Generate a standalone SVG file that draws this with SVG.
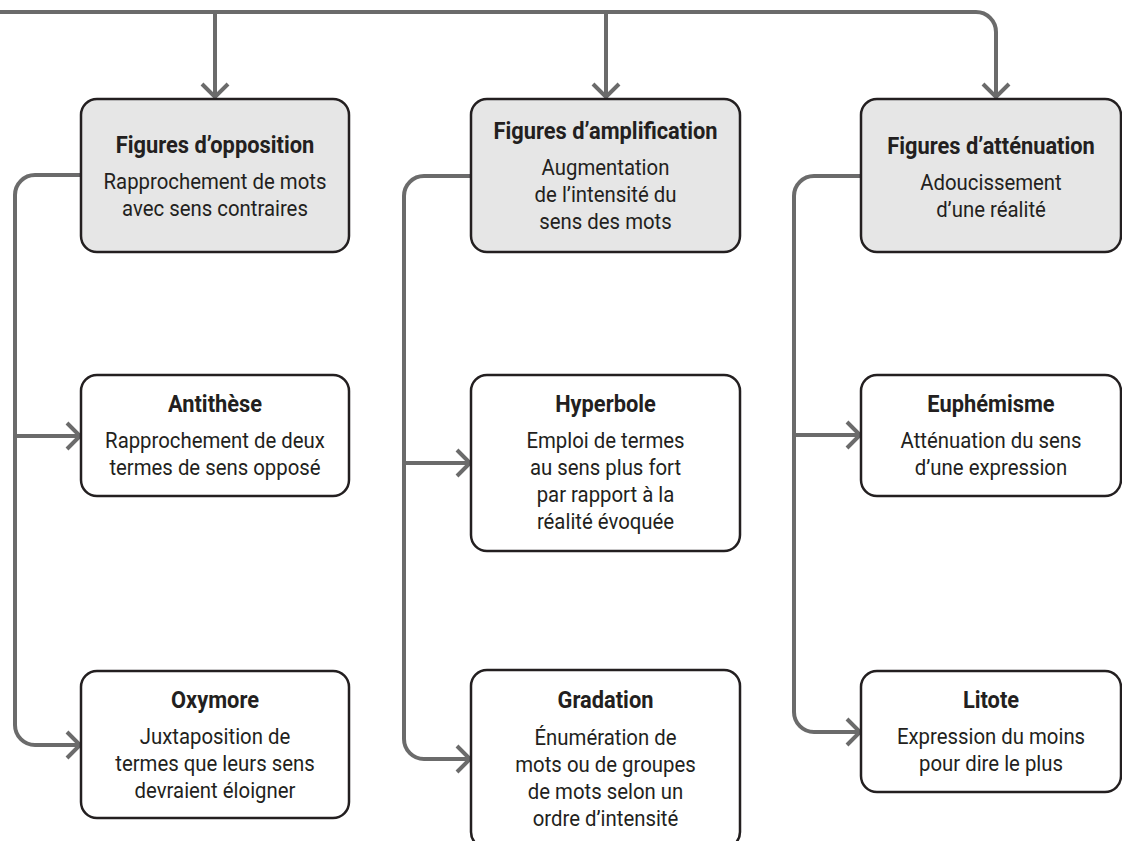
<svg xmlns="http://www.w3.org/2000/svg" width="1122" height="841" viewBox="0 0 1122 841">
<style>
.box{fill:#ffffff;stroke:#231f20;stroke-width:2.5}
.head{fill:#e6e6e6}
.ln{fill:none;stroke:#6b6b6b;stroke-width:4}
.t{font-family:Roboto,"Liberation Sans",sans-serif;font-size:23px;fill:#231f20;text-anchor:middle}
.b{font-weight:bold}
</style>
<defs>
<marker id="ah" markerUnits="userSpaceOnUse" viewBox="-16 -16 20 32" refX="0" refY="0" markerWidth="20" markerHeight="32" orient="auto">
<path d="M-13,-13 L0,0 L-13,13" fill="none" stroke="#6b6b6b" stroke-width="4"/>
</marker>
</defs>
<rect width="1122" height="841" fill="#ffffff"/>
<g id="connectors">
<path class="ln" d="M0,12 H976 A20,20 0 0 1 996,32 V97" marker-end="url(#ah)"/>
<path class="ln" d="M215,12 V97" marker-end="url(#ah)"/>
<path class="ln" d="M606,12 V97" marker-end="url(#ah)"/>
<path class="ln" d="M81,175 H35 A20,20 0 0 0 15,195 V725 A20,20 0 0 0 35,745 H80" marker-end="url(#ah)"/>
<path class="ln" d="M15,436 H80" marker-end="url(#ah)"/>
<path class="ln" d="M471,176 H424 A20,20 0 0 0 404,196 V739 A20,20 0 0 0 424,759 H470" marker-end="url(#ah)"/>
<path class="ln" d="M404,463 H470" marker-end="url(#ah)"/>
<path class="ln" d="M861,176 H814 A20,20 0 0 0 794,196 V712 A20,20 0 0 0 814,732 H860" marker-end="url(#ah)"/>
<path class="ln" d="M794,435 H860" marker-end="url(#ah)"/>
</g>
<g id="opposition">
<rect class="box head" x="81" y="99" width="268" height="153" rx="16"/>
<g transform="translate(215,0)">
<text class="t b" transform="scale(0.95,1)" x="0" y="153">Figures d’opposition</text>
<g transform="scale(0.885,1)">
<text class="t" x="0" y="189">Rapprochement de mots</text>
<text class="t" x="0" y="216">avec sens contraires</text>
</g>
</g>
</g>
<g id="amplification">
<rect class="box head" x="471" y="99" width="269" height="153" rx="16"/>
<g transform="translate(605.5,0)">
<text class="t b" transform="scale(0.95,1)" x="0" y="139">Figures d’amplification</text>
<g transform="scale(0.885,1)">
<text class="t" x="0" y="175">Augmentation</text>
<text class="t" x="0" y="202">de l’intensité du</text>
<text class="t" x="0" y="229">sens des mots</text>
</g>
</g>
</g>
<g id="attenuation">
<rect class="box head" x="861" y="99" width="260" height="153" rx="16"/>
<g transform="translate(991,0)">
<text class="t b" transform="scale(0.95,1)" x="0" y="154">Figures d’atténuation</text>
<g transform="scale(0.885,1)">
<text class="t" x="0" y="190">Adoucissement</text>
<text class="t" x="0" y="217">d’une réalité</text>
</g>
</g>
</g>
<g id="antithese">
<rect class="box" x="81" y="375" width="268" height="121" rx="16"/>
<g transform="translate(215,0)">
<text class="t b" transform="scale(0.95,1)" x="0" y="412">Antithèse</text>
<g transform="scale(0.885,1)">
<text class="t" x="0" y="448">Rapprochement de deux</text>
<text class="t" x="0" y="475">termes de sens opposé</text>
</g>
</g>
</g>
<g id="hyperbole">
<rect class="box" x="471" y="375" width="269" height="176" rx="16"/>
<g transform="translate(605.5,0)">
<text class="t b" transform="scale(0.95,1)" x="0" y="412.5">Hyperbole</text>
<g transform="scale(0.885,1)">
<text class="t" x="0" y="448.5">Emploi de termes</text>
<text class="t" x="0" y="475.5">au sens plus fort</text>
<text class="t" x="0" y="502.5">par rapport à la</text>
<text class="t" x="0" y="529.5">réalité évoquée</text>
</g>
</g>
</g>
<g id="euphemisme">
<rect class="box" x="861" y="375" width="260" height="121" rx="16"/>
<g transform="translate(991,0)">
<text class="t b" transform="scale(0.95,1)" x="0" y="412">Euphémisme</text>
<g transform="scale(0.885,1)">
<text class="t" x="0" y="448">Atténuation du sens</text>
<text class="t" x="0" y="475">d’une expression</text>
</g>
</g>
</g>
<g id="oxymore">
<rect class="box" x="81" y="671" width="268" height="147" rx="16"/>
<g transform="translate(215,0)">
<text class="t b" transform="scale(0.95,1)" x="0" y="708">Oxymore</text>
<g transform="scale(0.885,1)">
<text class="t" x="0" y="744">Juxtaposition de</text>
<text class="t" x="0" y="771">termes que leurs sens</text>
<text class="t" x="0" y="798">devraient éloigner</text>
</g>
</g>
</g>
<g id="gradation">
<rect class="box" x="471" y="670" width="269" height="178" rx="16"/>
<g transform="translate(605.5,0)">
<text class="t b" transform="scale(0.95,1)" x="0" y="708">Gradation</text>
<g transform="scale(0.885,1)">
<text class="t" x="0" y="745">Énumération de</text>
<text class="t" x="0" y="772">mots ou de groupes</text>
<text class="t" x="0" y="799">de mots selon un</text>
<text class="t" x="0" y="826">ordre d’intensité</text>
</g>
</g>
</g>
<g id="litote">
<rect class="box" x="861" y="671" width="260" height="121" rx="16"/>
<g transform="translate(991,0)">
<text class="t b" transform="scale(0.95,1)" x="0" y="708">Litote</text>
<g transform="scale(0.885,1)">
<text class="t" x="0" y="744">Expression du moins</text>
<text class="t" x="0" y="771">pour dire le plus</text>
</g>
</g>
</g>
</svg>
